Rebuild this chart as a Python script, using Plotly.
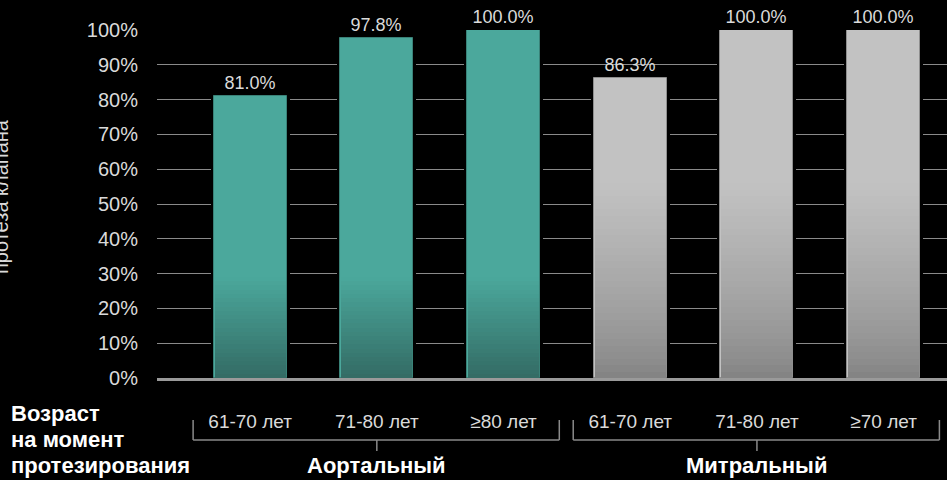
import plotly.graph_objects as go

# ---- data ----
categories = ["61-70 лет", "71-80 лет", "≥80 лет", "61-70 лет", "71-80 лет", "≥70 лет"]
aortic_values = [81.0, 97.8, 100.0]
mitral_values = [86.3, 100.0, 100.0]
groups = ["Аортальный", "Митральный"]
y_ticks = [0, 10, 20, 30, 40, 50, 60, 70, 80, 90, 100]
y_title = "протеза клапана"
age_lines = ["Возраст", "на момент", "протезирования"]

# ---- layout constants ----
W, H = 947, 480
ML, MR, MT, MB = 157, 0, 30, 102
plot_w = W - ML - MR
plot_h = H - MT - MB
x_range = [-0.735, 5.5]
unit_px = plot_w / (x_range[1] - x_range[0])
bar_w = 73 / unit_px
back_w = bar_w + 6 / unit_px

FONT = "Liberation Sans, Arial, Helvetica, sans-serif"
TEAL = "#4BA89C"
GRAY = "#C2C2C2"

a_x = list(range(len(aortic_values)))
m_x = [len(aortic_values) + i for i in range(len(mitral_values))]
all_x = a_x + m_x
all_vals = aortic_values + mitral_values

fig = go.Figure()

# black backing (gap between gridlines and bars)
fig.add_trace(go.Bar(x=all_x, y=all_vals, width=back_w, marker=dict(color="#000000", line=dict(width=0)),
                     hoverinfo="skip", showlegend=False))

# main bars
fig.add_trace(go.Bar(x=a_x, y=aortic_values, width=bar_w,
                     marker=dict(color=TEAL, line=dict(width=1, color="#3A8278")),
                     text=[f"{v:.1f}%" for v in aortic_values], textposition="outside",
                     textfont=dict(size=18, color="#DADADA", family=FONT),
                     cliponaxis=False, showlegend=False))
fig.add_trace(go.Bar(x=m_x, y=mitral_values, width=bar_w,
                     marker=dict(color=GRAY, line=dict(width=1, color="#8E8E8E")),
                     text=[f"{v:.1f}%" for v in mitral_values], textposition="outside",
                     textfont=dict(size=18, color="#DADADA", family=FONT),
                     cliponaxis=False, showlegend=False))

# bottom gradient shading (decorative bands)
def add_gradient(xs, top_val, c_bottom, c_top, n, gamma):
    step = top_val / n
    for k in range(n):
        t = ((k + 0.5) / n) ** gamma
        c = tuple(round(c_bottom[i] + (c_top[i] - c_bottom[i]) * t) for i in range(3))
        fig.add_trace(go.Bar(x=xs, y=[step] * len(xs), base=[k * step] * len(xs),
                             width=bar_w - 2 / unit_px,
                             marker=dict(color=f"rgb{c}", line=dict(width=0)),
                             hoverinfo="skip", showlegend=False))

add_gradient(a_x, 29, (51, 107, 100), (75, 168, 156), 24, 1.0)
add_gradient(m_x, 56, (128, 128, 128), (194, 194, 194), 30, 0.7)

fig.update_layout(
    width=W, height=H,
    margin=dict(l=ML, r=MR, t=MT, b=MB),
    paper_bgcolor="#000000", plot_bgcolor="#000000",
    barmode="overlay", bargap=0,
    font=dict(family=FONT, color="#DADADA"),
    showlegend=False,
)
fig.update_xaxes(range=x_range, tickvals=all_x, ticktext=categories,
                 tickfont=dict(size=19, color="#DADADA", family=FONT),
                 showgrid=False, zeroline=False, ticks="",
                 showline=True, linecolor="#9A9A9A", linewidth=3,
                 ticklabelstandoff=24)
fig.update_yaxes(range=[0, 100], tickvals=y_ticks, ticktext=[f"{v}%" for v in y_ticks],
                 tickfont=dict(size=20, color="#DADADA", family=FONT),
                 showgrid=True, gridcolor="#8A8A8A", gridwidth=1.3,
                 zeroline=False, ticks="", ticklabelstandoff=18)

def py(px):
    return (H - MB - px) / plot_h

def pxx(px):
    return (px - ML) / plot_w

# group brackets
gray_line = dict(color="#8A8A8A", width=1.5)
for gi, xs in enumerate([a_x, m_x]):
    lo, hi = xs[0] - 0.45, xs[-1] + 0.44
    mid = (xs[0] + xs[-1]) / 2
    fig.add_shape(type="line", xref="x", yref="paper", x0=lo, x1=lo, y0=py(420), y1=py(440), line=gray_line)
    fig.add_shape(type="line", xref="x", yref="paper", x0=hi, x1=hi, y0=py(420), y1=py(440), line=gray_line)
    fig.add_shape(type="line", xref="x", yref="paper", x0=lo, x1=hi, y0=py(440), y1=py(440), line=gray_line)
    fig.add_shape(type="line", xref="x", yref="paper", x0=mid, x1=mid, y0=py(440), y1=py(451), line=gray_line)
    fig.add_annotation(x=mid, xref="x", y=py(465), yref="paper", text=f"<b>{groups[gi]}</b>",
                       showarrow=False, xanchor="center", yanchor="middle",
                       font=dict(size=22, color="#FFFFFF", family=FONT))

for i, line in enumerate(age_lines):
    fig.add_annotation(x=pxx(9), xref="paper", y=py(413 + 26 * i), yref="paper", text=f"<b>{line}</b>",
                       showarrow=False, xanchor="left", yanchor="middle", align="left",
                       font=dict(size=22, color="#FFFFFF", family=FONT))

fig.add_annotation(x=pxx(1), xref="paper", y=py(197), yref="paper", text=y_title, textangle=-90,
                   showarrow=False, xanchor="center", yanchor="middle",
                   font=dict(size=20, color="#DADADA", family=FONT))

fig.write_html("out.html", config={"displayModeBar": False},
               post_script="document.body.style.margin='0';document.body.style.background='#000';")
